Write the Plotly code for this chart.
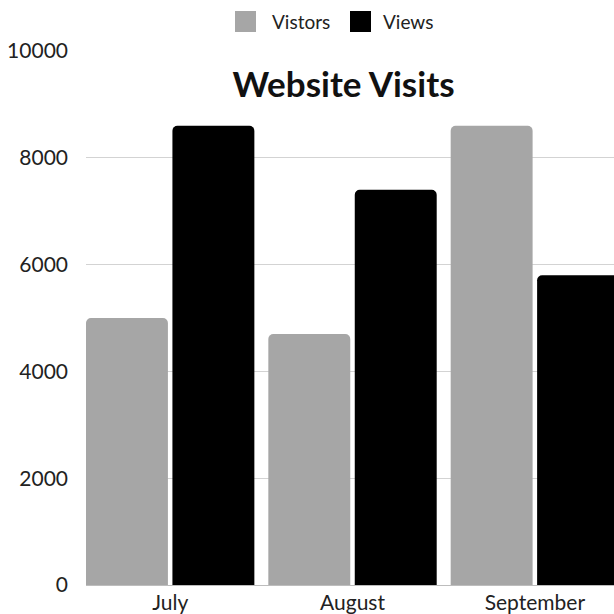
import plotly.graph_objects as go

months = ["July", "August", "September"]
visitors = [5000, 4700, 8600]
views = [8600, 7400, 5800]
series_names = ["Vistors", "Views"]
series_colors = ["#a6a6a6", "#000000"]
y_ticks = [0, 2000, 4000, 6000, 8000, 10000]
y_tick_labels = ["0", "2000", "4000", "6000", "8000", "10000"]

FONT = "Lato"
W = H = 614
L, R, T, B = 86, 0, 51, 29

fig = go.Figure()
for name, vals, col in zip(series_names, [visitors, views], series_colors):
    fig.add_trace(go.Bar(
        x=months, y=vals, name=name,
        marker=dict(color=col, cornerradius=5, line=dict(width=0)),
        showlegend=False, hoverinfo="skip",
    ))

# manual legend (large swatches)
plot_w = W - L - R
plot_h = H - T - B
def px_x(p):
    return (p - L) / plot_w
def px_y(p):
    return (H - B - p) / plot_h

legend_items = [(series_names[0], series_colors[0], 235, 270),
                (series_names[1], series_colors[1], 350, 381)]
for name, col, sx, tx in legend_items:
    fig.add_shape(type="rect", xref="paper", yref="paper",
                  x0=px_x(sx), x1=px_x(sx + 21), y0=px_y(11), y1=px_y(32),
                  fillcolor=col, line=dict(width=0), layer="above")
    fig.add_annotation(text=name, xref="paper", yref="paper",
                       x=px_x(tx), y=px_y(22), xanchor="left", yanchor="middle",
                       showarrow=False, font=dict(family=FONT, size=19, color="#222"))

fig.update_layout(
    width=W, height=H,
    margin=dict(l=L, r=R, t=T, b=B),
    paper_bgcolor="white", plot_bgcolor="white",
    barmode="group", bargap=0.052, bargroupgap=0.052,
    font=dict(family=FONT, size=19, color="#222"),
    title=dict(text="<b>Website Visits</b>", x=343.5 / W, xref="container", xanchor="center",
               y=1 - 85 / H, yref="container", yanchor="middle",
               font=dict(family=FONT, size=35, color="#111")),
    showlegend=False,
)
fig.update_xaxes(range=[-0.4616, 2.434], showgrid=False, showline=False,
                 ticks="", tickfont=dict(family=FONT, size=21, color="#222"),
                 ticklabelstandoff=3)
fig.update_yaxes(range=[0, 10000], tickvals=y_ticks, ticktext=y_tick_labels,
                 showgrid=True, gridcolor="#d3d3d3",
                 gridwidth=1, zeroline=True, zerolinecolor="#bdbdbd", zerolinewidth=1,
                 showline=False, ticks="", tickfont=dict(family=FONT, size=21, color="#222"),
                 ticklabelstandoff=17)

fig.write_html("out.html", config={"displayModeBar": False},
               post_script="document.body.style.margin='0';document.body.style.overflow='hidden';")
